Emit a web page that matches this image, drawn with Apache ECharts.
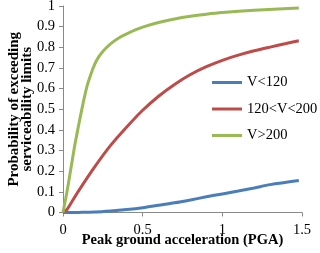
<!DOCTYPE html>
<html><head><meta charset="utf-8">
<script src="https://cdn.jsdelivr.net/npm/echarts@6/dist/echarts.min.js"></script>
<style>html,body{margin:0;padding:0;background:#fff}#c{width:320px;height:253px}</style>
</head><body><div id="c"></div>
<script>
var pgaLow  = [0, 0.1, 0.2, 0.3, 0.4, 0.5, 0.6, 0.7, 0.8, 0.9, 1.0, 1.1, 1.2, 1.3, 1.48];
var valLow  = [0, 0.0005, 0.002, 0.007, 0.014, 0.023, 0.035, 0.047, 0.061, 0.076, 0.09, 0.104, 0.119, 0.135, 0.155];
var pgaMid  = [0, 0.025, 0.05, 0.1, 0.2, 0.3, 0.4, 0.5, 0.6, 0.7, 0.8, 0.9, 1.0, 1.1, 1.2, 1.3, 1.4, 1.48];
var valMid  = [0, 0.015, 0.045, 0.107, 0.222, 0.326, 0.414, 0.495, 0.563, 0.62, 0.668, 0.706, 0.737, 0.762, 0.783, 0.801, 0.818, 0.832];
var pgaHigh = [0, 0.025, 0.05, 0.075, 0.1, 0.125, 0.15, 0.175, 0.2, 0.225, 0.25, 0.275, 0.3, 0.35, 0.4, 0.45, 0.5, 0.6, 0.7, 0.8, 0.9, 1.0, 1.2, 1.48];
var valHigh = [0, 0.1, 0.215, 0.33, 0.43, 0.525, 0.61, 0.67, 0.72, 0.755, 0.78, 0.80, 0.818, 0.845, 0.865, 0.883, 0.898, 0.92, 0.937, 0.95, 0.96, 0.968, 0.979, 0.99];
var seriesNames = ['V<120', '120<V<200', 'V>200'];
var colors = ['#4A7EBB', '#BE4B48', '#98B954'];
var xTicks = [0, 0.5, 1, 1.5];

function pairs(xs, ys){ return xs.map(function(x,i){ return [x, ys[i]]; }); }
var font = '"Liberation Serif", "DejaVu Serif", serif';
var chart = echarts.init(document.getElementById('c'));
function line(i, xs, ys){
  return {name: seriesNames[i], type: 'line', smooth: 0.3, showSymbol: false,
    data: pairs(xs, ys), lineStyle: {width: 3, color: colors[i]}, itemStyle: {color: colors[i]}};
}
chart.setOption({
  animation: false,
  grid: {left: 63, right: 18, top: 6, bottom: 40.5, outerBoundsMode: 'none', containLabel: false},
  legend: {
    orient: 'vertical', left: 207, top: 70, itemGap: 11.5,
    itemWidth: 30, itemHeight: 3, icon: 'rect',
    textStyle: {fontFamily: font, fontSize: 14.5, color: '#000'},
    data: seriesNames
  },
  xAxis: {
    type: 'value', min: 0, max: 1.5, interval: 0.5,
    name: 'Peak ground acceleration (PGA)', nameLocation: 'middle', nameGap: 20, nameMoveOverlap: false,
    nameTextStyle: {fontFamily: font, fontSize: 14.5, fontWeight: 'bold', color: '#000'},
    axisLine: {lineStyle: {color: '#898989'}},
    axisTick: {show: true, length: 4, lineStyle: {color: '#898989'}},
    axisLabel: {fontFamily: font, fontSize: 14.5, color: '#000', margin: 10,
      formatter: function(v){ return xTicks.indexOf(v) >= 0 ? String(v) : ''; }},
    splitLine: {show: false}
  },
  yAxis: {
    type: 'value', min: 0, max: 1, interval: 0.1,
    name: 'Probability of exceeding\nserviceability limits', nameLocation: 'middle', nameGap: 30, nameMoveOverlap: false,
    nameTextStyle: {fontFamily: font, fontSize: 15, fontWeight: 'bold', color: '#000', lineHeight: 12.5},
    axisLine: {show: true, lineStyle: {color: '#898989'}},
    axisTick: {show: true, length: 4, lineStyle: {color: '#898989'}},
    axisLabel: {fontFamily: font, fontSize: 14.5, color: '#000', margin: 8,
      formatter: function(v){ return String(Math.round(v*10)/10); }},
    splitLine: {show: false}
  },
  series: [line(0, pgaLow, valLow), line(1, pgaMid, valMid), line(2, pgaHigh, valHigh)]
});
</script></body></html>
